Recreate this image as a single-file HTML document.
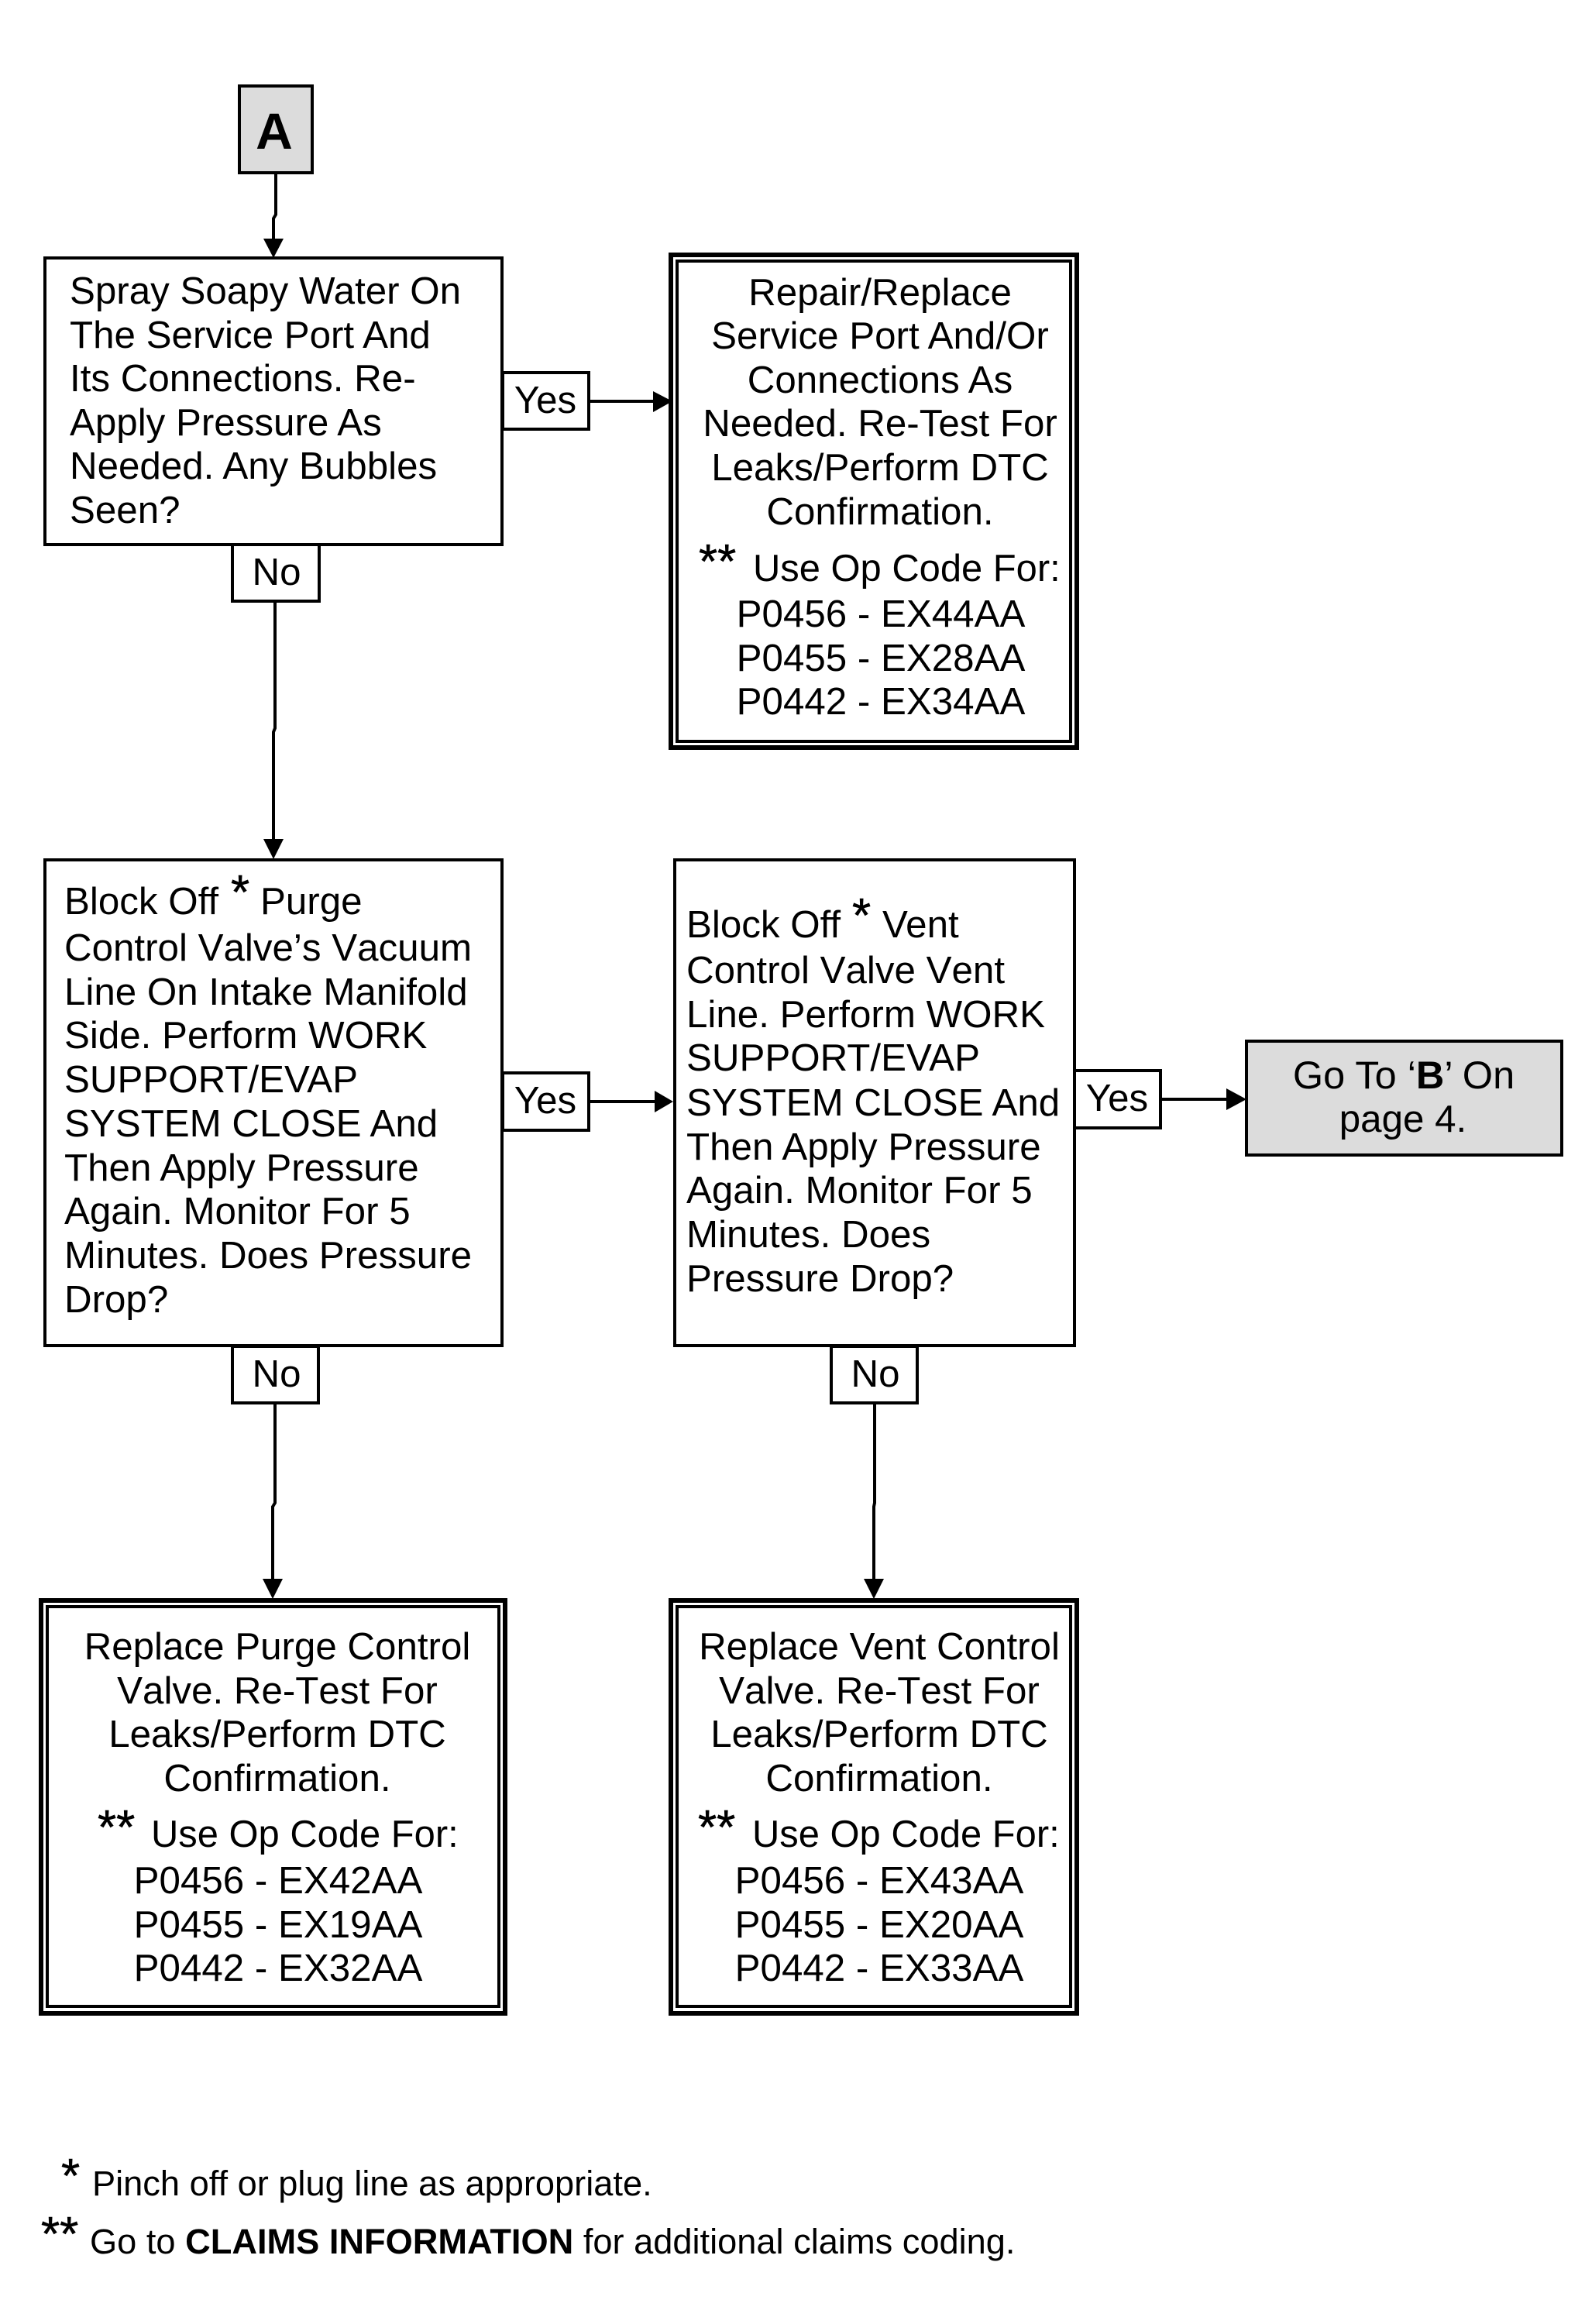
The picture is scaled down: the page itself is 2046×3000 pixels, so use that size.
<!DOCTYPE html>
<html><head><meta charset="utf-8"><style>
html,body{margin:0;padding:0;background:#fff}
svg{display:block}
text{font-family:"Liberation Sans",Arial,sans-serif;font-size:49.3px;fill:#000}
.c{text-anchor:middle}
.s{font-size:62px;stroke:#000;stroke-width:.6px}
.f{font-size:45.2px}
.k{font-kerning:none}
.u{font-size:48.9px}
</style></head><body>
<svg width="2046" height="3000" viewBox="0 0 2046 3000" xmlns="http://www.w3.org/2000/svg">
<g fill="#fff" stroke="#000" stroke-width="4">
<rect x="309" y="111" width="94" height="112" fill="#dcdcdc"/>
<rect x="58" y="333" width="590" height="370"/>
<rect x="649" y="481" width="111" height="73"/>
<rect x="300" y="703" width="112" height="73"/>
<rect x="58" y="1110" width="590" height="627"/>
<rect x="649" y="1385" width="111" height="74"/>
<rect x="300" y="1738" width="111" height="73"/>
<rect x="871" y="1110" width="516" height="627"/>
<rect x="1387" y="1382" width="111" height="74"/>
<rect x="1073" y="1738" width="111" height="73"/>
<rect x="1609" y="1344" width="407" height="147" fill="#dcdcdc"/>
</g>
<g fill="none" stroke="#000">
<rect x="866" y="329" width="524" height="636" stroke-width="6"/>
<rect x="874" y="337" width="508" height="620" stroke-width="4"/>
<rect x="53" y="2066" width="599" height="533" stroke-width="6"/>
<rect x="61" y="2074" width="583" height="516" stroke-width="4"/>
<rect x="866" y="2066" width="524" height="533" stroke-width="6"/>
<rect x="874" y="2074" width="508" height="516" stroke-width="4"/>
<g stroke-width="4">
<path d="M356 223V277L353 282V310"/>
<path d="M355 776V940L353 945V1085"/>
<path d="M355 1811V1940L352 1945V2040"/>
<path d="M1129 1811V1940L1128 1945V2040"/>
<path d="M760 518H845"/>
<path d="M760 1422H846"/>
<path d="M1498 1419H1585"/>
</g>
</g>
<g fill="#000">
<path d="M340 308H366L353 333Z"/>
<path d="M340 1083H366L353 1109Z"/>
<path d="M339 2038H365L352 2064Z"/>
<path d="M1115 2038H1141L1128 2064Z"/>
<path d="M843 505V532L868 518Z"/>
<path d="M845 1408V1436L869 1422Z"/>
<path d="M1583 1405V1433L1609 1419Z"/>
</g>

<text x="354" y="192" class="c" style="font-size:66px;font-weight:bold">A</text>

<text x="90" y="392">Spray Soapy Water On</text>
<text x="90" y="449">The Service Port And</text>
<text x="90" y="505">Its Connections. Re-</text>
<text x="90" y="562">Apply Pressure As</text>
<text x="90" y="618">Needed. Any Bubbles</text>
<text x="90" y="675">Seen?</text>

<text x="704" y="533" class="c">Yes</text>
<text x="357" y="755" class="c">No</text>

<text x="1136" y="394" class="c">Repair/Replace</text>
<text x="1136" y="450" class="c">Service Port And/Or</text>
<text x="1136" y="507" class="c">Connections As</text>
<text x="1136" y="563" class="c">Needed. Re-Test For</text>
<text x="1136" y="620" class="c">Leaks/Perform DTC</text>
<text x="1136" y="677" class="c">Confirmation.</text>
<text x="902" y="746" class="s">**</text>
<text x="972" y="750" class="u">Use Op Code For:</text>
<text x="1137" y="809" class="c">P0456 - EX44AA</text>
<text x="1137" y="866" class="c">P0455 - EX28AA</text>
<text x="1137" y="922" class="c">P0442 - EX34AA</text>

<text x="83" y="1180">Block Off</text>
<text x="298" y="1173" class="s">*</text>
<text x="336" y="1180">Purge</text>
<text x="83" y="1240" class="k">Control Valve’s Vacuum</text>
<text x="83" y="1297">Line On Intake Manifold</text>
<text x="83" y="1353">Side. Perform WORK</text>
<text x="83" y="1410">SUPPORT/EVAP</text>
<text x="83" y="1467">SYSTEM CLOSE And</text>
<text x="83" y="1524">Then Apply Pressure</text>
<text x="83" y="1580">Again. Monitor For 5</text>
<text x="83" y="1637">Minutes. Does Pressure</text>
<text x="83" y="1694">Drop?</text>

<text x="704" y="1437" class="c">Yes</text>
<text x="357" y="1790" class="c">No</text>

<text x="886" y="1210">Block Off</text>
<text x="1100" y="1203" class="s">*</text>
<text x="1139" y="1210">Vent</text>
<text x="886" y="1269" class="k">Control Valve Vent</text>
<text x="886" y="1326">Line. Perform WORK</text>
<text x="886" y="1382">SUPPORT/EVAP</text>
<text x="886" y="1440">SYSTEM CLOSE And</text>
<text x="886" y="1497">Then Apply Pressure</text>
<text x="886" y="1553">Again. Monitor For 5</text>
<text x="886" y="1610">Minutes. Does</text>
<text x="886" y="1667">Pressure Drop?</text>

<text x="1442" y="1434" class="c">Yes</text>
<text x="1130" y="1790" class="c">No</text>

<text x="1812" y="1405" class="c" style="font-size:50.5px">Go To ‘<tspan font-weight="bold">B</tspan>’ On</text>
<text x="1811" y="1461" class="c">page 4.</text>

<text x="358" y="2142" class="c">Replace Purge Control</text>
<text x="358" y="2199" class="c k">Valve. Re-Test For</text>
<text x="358" y="2255" class="c">Leaks/Perform DTC</text>
<text x="358" y="2312" class="c">Confirmation.</text>
<text x="126" y="2380" class="s">**</text>
<text x="195" y="2384" class="u">Use Op Code For:</text>
<text x="359" y="2444" class="c">P0456 - EX42AA</text>
<text x="359" y="2501" class="c">P0455 - EX19AA</text>
<text x="359" y="2557" class="c">P0442 - EX32AA</text>

<text x="1135" y="2142" class="c">Replace Vent Control</text>
<text x="1135" y="2199" class="c k">Valve. Re-Test For</text>
<text x="1135" y="2255" class="c">Leaks/Perform DTC</text>
<text x="1135" y="2312" class="c">Confirmation.</text>
<text x="901" y="2380" class="s">**</text>
<text x="971" y="2384" class="u">Use Op Code For:</text>
<text x="1135" y="2444" class="c">P0456 - EX43AA</text>
<text x="1135" y="2501" class="c">P0455 - EX20AA</text>
<text x="1135" y="2557" class="c">P0442 - EX33AA</text>

<text x="79" y="2830" class="s">*</text>
<text x="119" y="2834" class="f">Pinch off or plug line as appropriate.</text>
<text x="53" y="2905" class="s">**</text>
<text x="116" y="2909" class="f">Go to <tspan font-weight="bold">CLAIMS INFORMATION</tspan> for additional claims coding.</text>
</svg>
</body></html>
